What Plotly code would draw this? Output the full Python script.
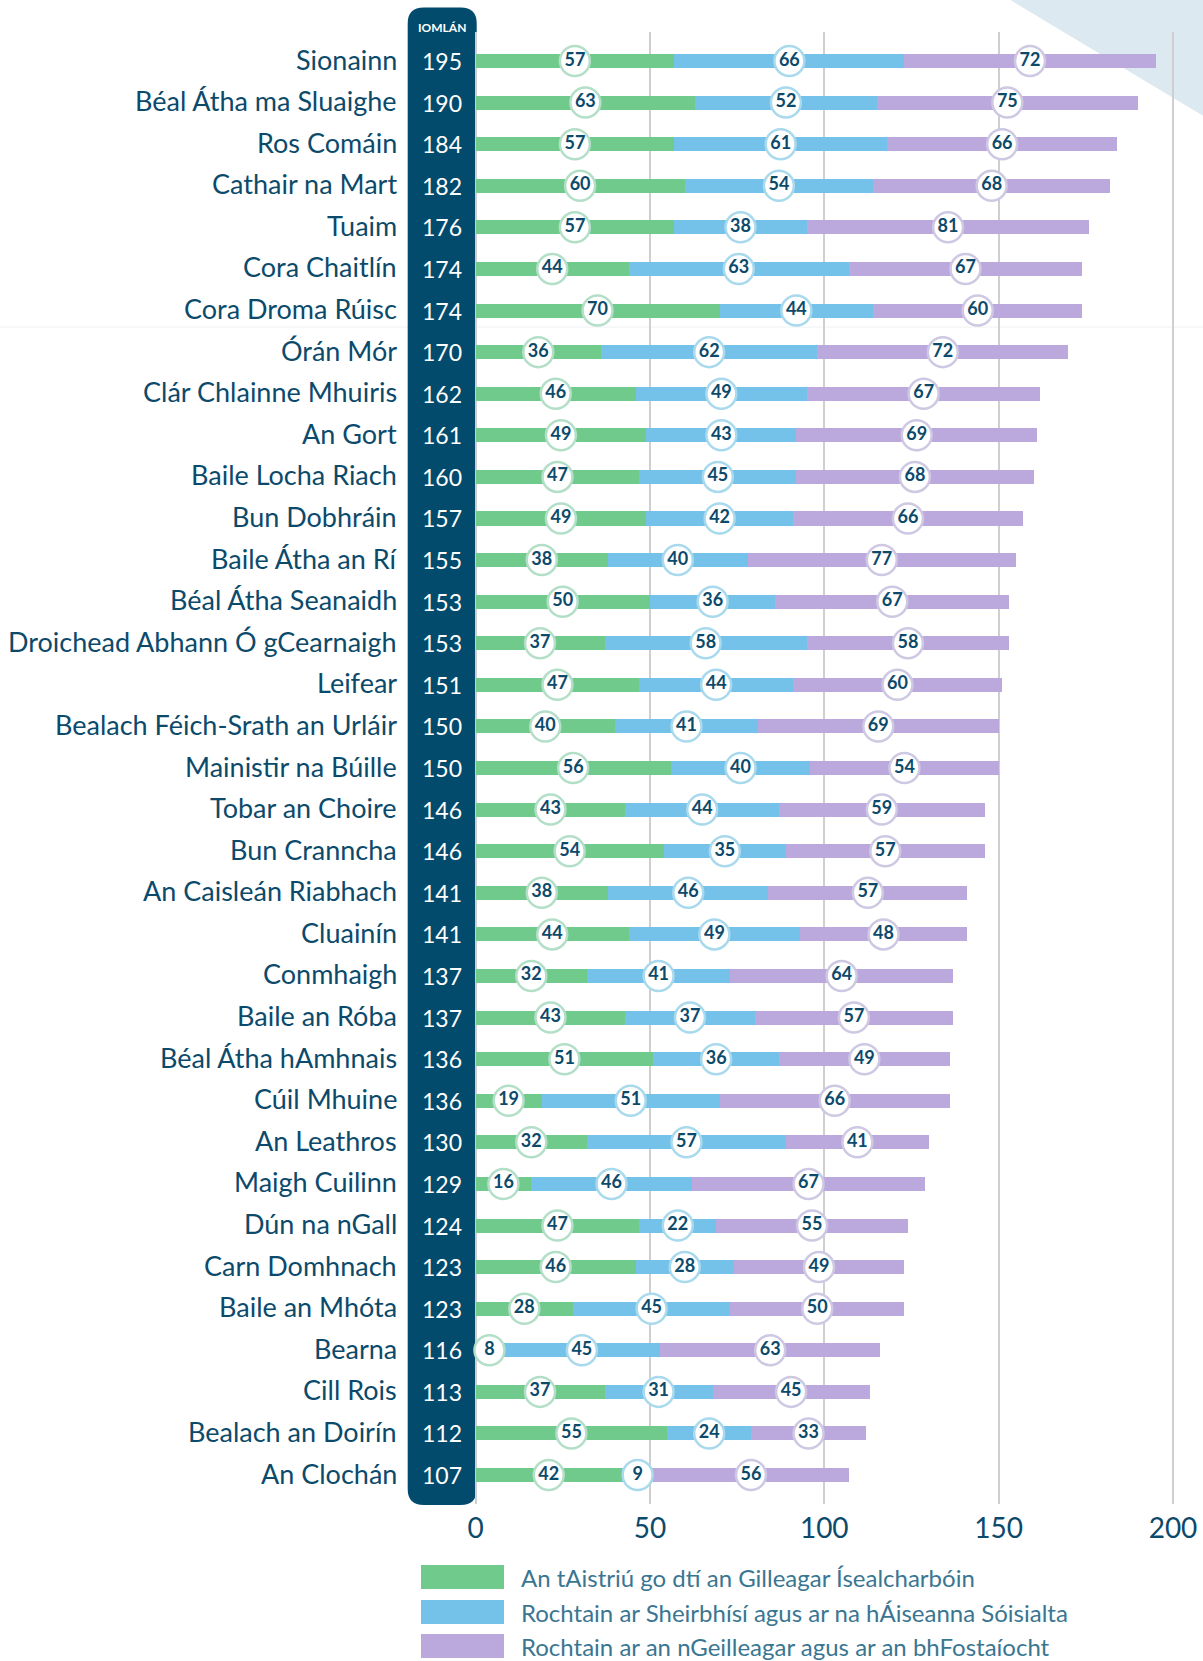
import plotly.graph_objects as go

categories = ["Sionainn", "Béal Átha ma Sluaighe", "Ros Comáin", "Cathair na Mart", "Tuaim",
              "Cora Chaitlín", "Cora Droma Rúisc", "Órán Mór", "Clár Chlainne Mhuiris", "An Gort",
              "Baile Locha Riach", "Bun Dobhráin", "Baile Átha an Rí", "Béal Átha Seanaidh",
              "Droichead Abhann Ó gCearnaigh", "Leifear", "Bealach Féich-Srath an Urláir",
              "Mainistir na Búille", "Tobar an Choire", "Bun Cranncha", "An Caisleán Riabhach",
              "Cluainín", "Conmhaigh", "Baile an Róba", "Béal Átha hAmhnais", "Cúil Mhuine",
              "An Leathros", "Maigh Cuilinn", "Dún na nGall", "Carn Domhnach", "Baile an Mhóta",
              "Bearna", "Cill Rois", "Bealach an Doirín", "An Clochán"]
totals = [195, 190, 184, 182, 176, 174, 174, 170, 162, 161, 160, 157, 155, 153, 153, 151, 150,
          150, 146, 146, 141, 141, 137, 137, 136, 136, 130, 129, 124, 123, 123, 116, 113, 112, 107]
transition = [57, 63, 57, 60, 57, 44, 70, 36, 46, 49, 47, 49, 38, 50, 37, 47, 40, 56, 43, 54, 38,
              44, 32, 43, 51, 19, 32, 16, 47, 46, 28, 8, 37, 55, 42]
services = [66, 52, 61, 54, 38, 63, 44, 62, 49, 43, 45, 42, 40, 36, 58, 44, 41, 40, 44, 35, 46,
            49, 41, 37, 36, 51, 57, 46, 22, 28, 45, 45, 31, 24, 9]
economy = [72, 75, 66, 68, 81, 67, 60, 72, 67, 69, 68, 66, 77, 67, 58, 60, 69, 54, 59, 57, 57,
           48, 64, 57, 49, 66, 41, 67, 55, 49, 50, 63, 45, 33, 56]
series_names = ["An tAistriú go dtí an Gilleagar Ísealcharbóin",
                "Rochtain ar Sheirbhísí agus ar na hÁiseanna Sóisialta",
                "Rochtain ar an nGeilleagar agus ar an bhFostaíocht"]
tick_vals = [0, 50, 100, 150, 200]
header = "IOMLÁN"

colors = ["#6fca8c", "#74c1e9", "#bba9de"]
ring_colors = ["#b3dfc8", "#a8d9ec", "#cec8e3"]
NAVY = "#034b6c"
TXT = "#0c4a6b"
FONT = "Lato"

W, H = 1203, 1661
PLOT_T, PLOT_B = 32, 1504
X0PX, XSCALE = 475.5, 3.4875
ROW0, ROWH = 61, 41.59

x_lo = (0 - X0PX) / XSCALE
x_hi = (W - X0PX) / XSCALE
y_top = (PLOT_T - ROW0) / ROWH
y_bot = (PLOT_B - ROW0) / ROWH

def px2x(px):
    return (px - X0PX) / XSCALE

def pp(px, py):
    return f"{px / W:.6f},{(PLOT_B - py) / (PLOT_B - PLOT_T):.6f}"

def py2paper(py):
    return (PLOT_B - py) / (PLOT_B - PLOT_T)

n = len(categories)
rows = list(range(n))
series = [transition, services, economy]

fig = go.Figure()

for vals, col, name in zip(series, colors, series_names):
    fig.add_trace(go.Bar(x=vals, y=rows, orientation="h", marker=dict(color=col, line=dict(width=0)),
                         width=0.337, name=name, showlegend=False, hoverinfo="skip"))

# bubbles at segment midpoints
base = [0] * n
for vals, col, ring in zip(series, colors, ring_colors):
    mids = [b + v / 2 for b, v in zip(base, vals)]
    fig.add_trace(go.Scatter(x=mids, y=rows, mode="markers+text", text=[str(v) for v in vals],
                             textposition="middle center",
                             textfont=dict(family=FONT, size=18, color=TXT, weight="bold"),
                             marker=dict(size=30, color="white", line=dict(width=2.5, color=ring)),
                             showlegend=False, hoverinfo="skip", cliponaxis=False))
    base = [b + v for b, v in zip(base, vals)]

annotations = []
# totals in dark column
for i, t in enumerate(totals):
    annotations.append(dict(x=px2x(441.7), y=i, xref="x", yref="y", text=str(t), showarrow=False,
                            xanchor="center", yanchor="middle", yshift=0,
                            font=dict(family=FONT, size=23, color="white")))
for i, c in enumerate(categories):
    annotations.append(dict(x=px2x(399), y=i, xref="x", yref="y", text=c, showarrow=False,
                            xanchor="right", yanchor="middle", yshift=2,
                            font=dict(family=FONT, size=27, color=TXT)))
annotations.append(dict(x=441.7 / W, y=py2paper(28), xref="paper", yref="paper", text=header,
                        showarrow=False, xanchor="center", yanchor="middle",
                        font=dict(family=FONT, size=12, color="white", weight="bold")))

shapes = []
# background triangle
shapes.append(dict(type="path", xref="paper", yref="paper", layer="below",
                   path=f"M {pp(1007, -2)} L {pp(1205, -2)} L {pp(1205, 117)} Z",
                   fillcolor="#dde9f0", line=dict(width=0)))
# faint divider line
shapes.append(dict(type="line", xref="paper", yref="paper", layer="below",
                   x0=0, x1=1, y0=py2paper(327), y1=py2paper(327),
                   line=dict(color="#eef1f2", width=1)))
# dark total column
L, R, T, B, r = 407.7, 476.7, 7.5, 1505, 16
path = (f"M {pp(L + r, T)} L {pp(R - r, T)} Q {pp(R, T)} {pp(R, T + r)} "
        f"L {pp(R, B - r)} Q {pp(R, B)} {pp(R - r, B)} L {pp(L + r, B)} "
        f"Q {pp(L, B)} {pp(L, B - r)} L {pp(L, T + r)} Q {pp(L, T)} {pp(L + r, T)} Z")
shapes.append(dict(type="path", xref="paper", yref="paper", layer="between", path=path,
                   fillcolor=NAVY, line=dict(width=0)))

# legend
leg_y = [1577, 1612, 1646]
for yy, col, name in zip(leg_y, colors, series_names):
    shapes.append(dict(type="rect", xref="paper", yref="paper", layer="above",
                       x0=421 / W, x1=504 / W, y0=py2paper(yy - 12), y1=py2paper(yy + 12),
                       fillcolor=col, line=dict(width=0)))
    annotations.append(dict(x=519 / W, y=py2paper(yy), xref="paper", yref="paper", text=name,
                            showarrow=False, xanchor="left", yanchor="middle",
                            font=dict(family=FONT, size=24, color="#3a7691")))

fig.update_layout(
    width=W, height=H, barmode="stack",
    margin=dict(l=0, r=0, t=PLOT_T, b=H - PLOT_B, pad=0),
    paper_bgcolor="white", plot_bgcolor="white",
    showlegend=False,
    xaxis=dict(range=[x_lo, x_hi], tickvals=tick_vals, ticktext=[str(v) for v in tick_vals],
               showgrid=True, gridcolor="#cfcfcf", gridwidth=1.5, zeroline=False,
               showline=False, ticks="", ticklabelstandoff=5,
               tickfont=dict(family=FONT, size=28, color=TXT), fixedrange=True),
    yaxis=dict(range=[y_bot, y_top], showgrid=False, zeroline=False, showticklabels=False,
               showline=False, ticks="", fixedrange=True),
    shapes=shapes, annotations=annotations,
)

fig.write_html("out.html", config={"displayModeBar": False},
               post_script="document.body.style.margin='0';document.body.style.overflow='hidden';")
